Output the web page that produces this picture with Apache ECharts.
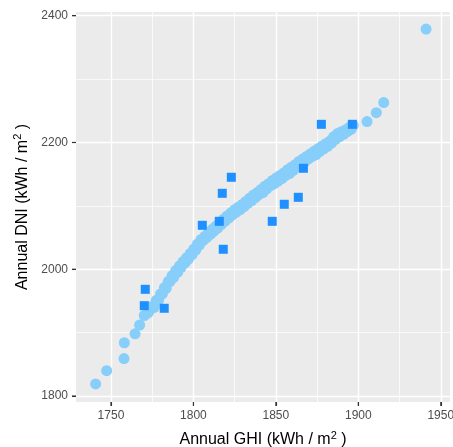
<!DOCTYPE html>
<html>
<head>
<meta charset="utf-8">
<script src="https://cdn.jsdelivr.net/npm/echarts@6/dist/echarts.min.js"></script>
<style>
  html, body { margin: 0; padding: 0; background: #ffffff; }
  #chart { width: 453px; height: 447px; }
</style>
</head>
<body>
<div id="chart"></div>
<script>
// Annual GHI (x) and DNI (y) per site, kWh / m²
const siteGHI = [
  1740.7, 1747.4, 1757.9, 1758.1, 1764.6, 1767.4, 1770.2, 1773.7,
  1772.5, 1774.8, 1776.3, 1777.5, 1778.9, 1780.1, 1781.2, 1782.4, 1783.5, 1784.8,
  1785.9, 1787.1, 1788.0, 1789.3, 1790.4, 1791.5, 1792.6, 1793.7, 1794.9, 1795.8,
  1797.0, 1798.1, 1799.2, 1800.3, 1801.4, 1802.5, 1803.6, 1804.7, 1805.8, 1806.9,
  1808.0, 1809.1, 1810.3, 1811.4, 1812.5, 1813.6, 1814.8, 1815.9, 1817.0, 1818.2,
  1819.3, 1820.4, 1821.6, 1822.7, 1823.8, 1825.0, 1826.1, 1827.2, 1828.4, 1829.5,
  1830.7, 1831.8, 1833.0, 1834.1, 1835.3, 1836.4, 1837.6, 1838.7, 1839.9, 1841.0,
  1842.2, 1843.3, 1844.5, 1845.6, 1846.8, 1847.9, 1849.1, 1850.2, 1851.4, 1852.5,
  1853.7, 1854.8, 1856.0, 1857.1, 1858.3, 1859.4, 1860.6, 1861.7, 1862.9, 1864.0,
  1865.2, 1866.3, 1867.5, 1868.6, 1869.8, 1870.9, 1872.1, 1873.2, 1874.4, 1875.5,
  1876.7, 1877.8, 1879.0, 1880.2, 1881.4, 1882.6, 1883.8, 1885.0, 1886.2, 1887.4,
  1888.6, 1889.8, 1891.0, 1892.2, 1893.4, 1894.6, 1895.8, 1897.0,
  1905.3, 1910.9, 1915.4, 1941.1
];
const siteDNI = [
  1819, 1840, 1859, 1884, 1898, 1912, 1927, 1936,
  1931, 1941, 1940, 1951, 1951, 1961, 1961, 1971, 1970, 1981,
  1981, 1990, 1987, 1998, 1995, 2005, 2003, 2012, 2010, 2018,
  2016, 2025, 2023, 2032, 2030, 2040, 2038, 2047, 2045, 2052,
  2050, 2057, 2055, 2063, 2060, 2068, 2065, 2074, 2071, 2079,
  2076, 2084, 2081, 2089, 2086, 2094, 2090, 2098, 2094, 2102,
  2099, 2107, 2104, 2112, 2108, 2117, 2113, 2121, 2118, 2126,
  2121, 2131, 2127, 2135, 2132, 2140, 2135, 2144, 2139, 2148,
  2143, 2152, 2148, 2157, 2151, 2161, 2156, 2165, 2161, 2170,
  2165, 2174, 2169, 2178, 2174, 2182, 2178, 2186, 2181, 2190,
  2186, 2194, 2190, 2198, 2194, 2202, 2199, 2209, 2205, 2214,
  2209, 2217, 2213, 2220, 2217, 2224, 2221, 2227,
  2233, 2247, 2263, 2379
];

// Measured stations (squares)
const stationGHI = [1770.8, 1770.2, 1782.3, 1805.4, 1815.7, 1818.1, 1817.5, 1823.0,
                    1847.8, 1855.1, 1863.6, 1866.7, 1877.6, 1896.4];
const stationDNI = [1968.3, 1942.5, 1938.4, 2069.3, 2075.6, 2031.5, 2119.8, 2145.1,
                    2075.6, 2102.5, 2113.5, 2159.3, 2228.7, 2228.7];

// Axis ticks
const xMajor = [1750, 1800, 1850, 1900, 1950];
const xMinor = [1775, 1825, 1875, 1925];
const yMajor = [1800, 2000, 2200, 2400];
const yMinor = [1900, 2100, 2300];

const xRange = [1728.8, 1955.6];
const yRange = [1790.5, 2405.9];

const FONT = '"Liberation Sans", Arial, Helvetica, sans-serif';
const TICK_LEN = 4;

const zip = (a, b) => a.map((v, i) => [v, b[i]]);

const majorAxis = (ticks, range) => ({
  type: 'value',
  min: range[0],
  max: range[1],
  axisLine: { show: false },
  axisTick: { show: true, length: TICK_LEN, customValues: ticks, lineStyle: { color: '#333333', width: 1.1 } },
  axisLabel: {
    customValues: ticks, color: '#4D4D4D', fontSize: 12, fontFamily: FONT,
    formatter: v => String(v)
  },
  splitLine: { show: true, lineStyle: { color: '#FFFFFF', width: 1.4 } }
});

const minorAxis = (ticks, range) => ({
  type: 'value',
  min: range[0],
  max: range[1],
  axisLine: { show: false },
  axisTick: { show: false, customValues: ticks },
  axisLabel: { show: false, customValues: ticks },
  splitLine: { show: true, lineStyle: { color: '#FFFFFF', width: 0.7 } }
});

const titleStyle = {
  color: '#000000', fontSize: 16, fontFamily: FONT,
  rich: {
    sup: { fontSize: 11, fontFamily: FONT, color: '#000000', padding: [0, 0, 9, 0] }
  }
};

// Short dark tick marks just outside the panel edges
const tickSeries = (values, horizontal) => ({
  type: 'custom',
  clip: false,
  silent: true,
  z: 5,
  data: values.map(v => [v]),
  encode: horizontal ? { x: 0 } : { y: 0 },
  renderItem: (params, api) => {
    const v = api.value(0);
    const p = horizontal ? api.coord([v, yRange[0]]) : api.coord([xRange[0], v]);
    const shape = horizontal
      ? { x1: p[0], y1: p[1], x2: p[0], y2: p[1] + TICK_LEN }
      : { x1: p[0] - TICK_LEN, y1: p[1], x2: p[0], y2: p[1] };
    return { type: 'line', shape, style: { stroke: '#333333', lineWidth: 1.1 } };
  }
});

const chart = echarts.init(document.getElementById('chart'), null, { renderer: 'canvas' });

const xMain = majorAxis(xMajor, xRange);
xMain.axisLabel.margin = 8;
xMain.name = 'Annual GHI (kWh / m{sup|2} )';
xMain.nameLocation = 'middle';
xMain.nameGap = 28;
xMain.nameTextStyle = titleStyle;

const yMain = majorAxis(yMajor, yRange);
yMain.axisLabel.margin = 8;
yMain.name = 'Annual DNI (kWh / m{sup|2} )';
yMain.nameLocation = 'middle';
yMain.nameGap = 39;
yMain.nameTextStyle = titleStyle;

chart.setOption({
  animation: false,
  backgroundColor: '#FFFFFF',
  grid: {
    left: 76, right: 3, top: 12, bottom: 45,
    containLabel: false,
    outerBoundsMode: 'none',
    show: true, backgroundColor: '#EBEBEB', borderWidth: 0
  },
  xAxis: [xMain, minorAxis(xMinor, xRange)],
  yAxis: [yMain, minorAxis(yMinor, yRange)],
  series: [
    {
      type: 'scatter',
      data: zip(siteGHI, siteDNI),
      symbol: 'circle',
      symbolSize: 11,
      itemStyle: { color: '#87CEFA', opacity: 1 },
      emphasis: { disabled: true }
    },
    {
      type: 'scatter',
      data: zip(stationGHI, stationDNI),
      symbol: 'rect',
      symbolSize: 9,
      itemStyle: { color: '#1E90FF', opacity: 1 },
      emphasis: { disabled: true }
    },
    tickSeries(xMajor, true),
    tickSeries(yMajor, false)
  ]
});
</script>
</body>
</html>
